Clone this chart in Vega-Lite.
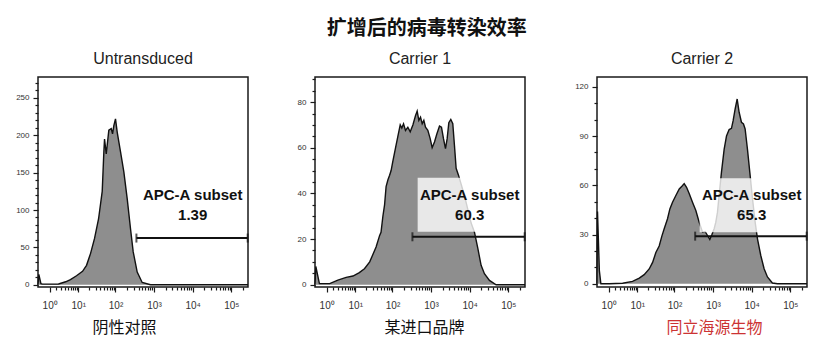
{
  "$schema": "https://vega.github.io/schema/vega-lite/v6.json",
  "padding": {"left": 14, "top": 19, "right": 5, "bottom": 5},
  "background": "#ffffff",
  "title": {
    "text": "扩增后的病毒转染效率",
    "font": "Noto Sans CJK SC",
    "fontSize": 20,
    "fontWeight": "bold",
    "color": "#111111",
    "anchor": "middle",
    "offset": 11,
    "dx": 14
  },
  "datasets": {
    "untransduced": [
      {"intensity": 0, "count": 0},
      {"intensity": 0.05, "count": 14},
      {"intensity": 0.19, "count": 1.5},
      {"intensity": 0.3, "count": 0.8},
      {"intensity": 2.4, "count": 1},
      {"intensity": 4.2, "count": 4},
      {"intensity": 5.9, "count": 7},
      {"intensity": 8.9, "count": 12},
      {"intensity": 13.2, "count": 18},
      {"intensity": 17, "count": 26},
      {"intensity": 21.9, "count": 42},
      {"intensity": 28, "count": 62},
      {"intensity": 35.8, "count": 88},
      {"intensity": 44.8, "count": 125},
      {"intensity": 49.5, "count": 178},
      {"intensity": 51.6, "count": 195},
      {"intensity": 57.2, "count": 175},
      {"intensity": 66.9, "count": 207},
      {"intensity": 77.3, "count": 209},
      {"intensity": 83.7, "count": 202},
      {"intensity": 90.5, "count": 213},
      {"intensity": 100, "count": 222},
      {"intensity": 111, "count": 204},
      {"intensity": 135, "count": 178},
      {"intensity": 165, "count": 151},
      {"intensity": 202, "count": 115},
      {"intensity": 246, "count": 75},
      {"intensity": 289, "count": 44},
      {"intensity": 367, "count": 17},
      {"intensity": 494, "count": 3},
      {"intensity": 812, "count": 0},
      {"intensity": 270000, "count": 0}
    ],
    "carrier1": [
      {"intensity": 0, "count": 0},
      {"intensity": 0.05, "count": 8},
      {"intensity": 0.3, "count": 0.5},
      {"intensity": 1.4, "count": 0.5},
      {"intensity": 2.9, "count": 2},
      {"intensity": 5.4, "count": 3.2},
      {"intensity": 8.6, "count": 3.8},
      {"intensity": 13, "count": 5.3},
      {"intensity": 18, "count": 7},
      {"intensity": 25, "count": 10},
      {"intensity": 30, "count": 13},
      {"intensity": 37, "count": 16.5},
      {"intensity": 46, "count": 21.6},
      {"intensity": 50, "count": 23},
      {"intensity": 56, "count": 30},
      {"intensity": 62, "count": 35},
      {"intensity": 68, "count": 43},
      {"intensity": 76, "count": 46},
      {"intensity": 84, "count": 48},
      {"intensity": 92, "count": 50},
      {"intensity": 102, "count": 54},
      {"intensity": 120, "count": 60},
      {"intensity": 138, "count": 65},
      {"intensity": 159, "count": 70},
      {"intensity": 175, "count": 68.6},
      {"intensity": 194, "count": 70.5},
      {"intensity": 218, "count": 67.6},
      {"intensity": 251, "count": 69},
      {"intensity": 289, "count": 67},
      {"intensity": 339, "count": 70},
      {"intensity": 396, "count": 74},
      {"intensity": 438, "count": 76},
      {"intensity": 484, "count": 72},
      {"intensity": 535, "count": 73.4},
      {"intensity": 591, "count": 70.5},
      {"intensity": 652, "count": 72},
      {"intensity": 720, "count": 69},
      {"intensity": 827, "count": 67.6},
      {"intensity": 952, "count": 64},
      {"intensity": 1071, "count": 60},
      {"intensity": 1230, "count": 62.5},
      {"intensity": 1415, "count": 66},
      {"intensity": 1659, "count": 69.5},
      {"intensity": 1866, "count": 69},
      {"intensity": 2103, "count": 64},
      {"intensity": 2370, "count": 59.6},
      {"intensity": 2617, "count": 64},
      {"intensity": 2890, "count": 71},
      {"intensity": 3251, "count": 72.4},
      {"intensity": 3662, "count": 70.5},
      {"intensity": 4045, "count": 61},
      {"intensity": 4467, "count": 51},
      {"intensity": 5138, "count": 48},
      {"intensity": 6022, "count": 44},
      {"intensity": 7340, "count": 39},
      {"intensity": 8950, "count": 33},
      {"intensity": 10910, "count": 27},
      {"intensity": 13300, "count": 23},
      {"intensity": 16220, "count": 16},
      {"intensity": 19770, "count": 8.5},
      {"intensity": 24100, "count": 4.8},
      {"intensity": 32500, "count": 1.9},
      {"intensity": 48300, "count": 0},
      {"intensity": 270000, "count": 0}
    ],
    "carrier2": [
      {"intensity": 0, "count": 0},
      {"intensity": 0.03, "count": 44},
      {"intensity": 0.15, "count": 8},
      {"intensity": 0.26, "count": 0},
      {"intensity": 1.07, "count": 0},
      {"intensity": 3.6, "count": 0.3},
      {"intensity": 7.3, "count": 1.4},
      {"intensity": 11.4, "count": 3.4},
      {"intensity": 15.6, "count": 5.5},
      {"intensity": 21.4, "count": 9},
      {"intensity": 26.4, "count": 13},
      {"intensity": 32.3, "count": 19},
      {"intensity": 39.6, "count": 23},
      {"intensity": 46.6, "count": 29},
      {"intensity": 53.7, "count": 33.5},
      {"intensity": 65.7, "count": 39.6},
      {"intensity": 75.7, "count": 45.6},
      {"intensity": 88.8, "count": 49.7},
      {"intensity": 108.6, "count": 53.8},
      {"intensity": 133, "count": 57.8},
      {"intensity": 156, "count": 59.4},
      {"intensity": 179, "count": 61},
      {"intensity": 206, "count": 58.8},
      {"intensity": 241, "count": 55},
      {"intensity": 294, "count": 49.7},
      {"intensity": 359, "count": 44.6},
      {"intensity": 438, "count": 37.5},
      {"intensity": 535, "count": 31.4},
      {"intensity": 627, "count": 31.8},
      {"intensity": 720, "count": 29.4},
      {"intensity": 827, "count": 27},
      {"intensity": 932, "count": 29.8},
      {"intensity": 1071, "count": 33.5},
      {"intensity": 1182, "count": 37.5},
      {"intensity": 1305, "count": 43.6},
      {"intensity": 1442, "count": 54},
      {"intensity": 1656, "count": 68},
      {"intensity": 1945, "count": 82},
      {"intensity": 2234, "count": 90},
      {"intensity": 2617, "count": 94},
      {"intensity": 3005, "count": 94.7},
      {"intensity": 3318, "count": 99.4},
      {"intensity": 3740, "count": 106.5},
      {"intensity": 4217, "count": 112.6},
      {"intensity": 4743, "count": 104.5},
      {"intensity": 5445, "count": 98.4},
      {"intensity": 6140, "count": 97.4},
      {"intensity": 6778, "count": 94.3},
      {"intensity": 7780, "count": 82},
      {"intensity": 8950, "count": 68},
      {"intensity": 10490, "count": 52},
      {"intensity": 12300, "count": 37.5},
      {"intensity": 14130, "count": 27.4},
      {"intensity": 17220, "count": 17.2},
      {"intensity": 20990, "count": 9.1},
      {"intensity": 25600, "count": 4.1},
      {"intensity": 34400, "count": 0.4},
      {"intensity": 46400, "count": 0},
      {"intensity": 270000, "count": 0}
    ],
    "gates": [
      {"panel": "Untransduced", "lo": 350, "hi": 265000, "gate_y": 62.5, "label_x": 10000, "label_y": 106.7, "pct": 1.39},
      {"panel": "Carrier 1", "lo": 330, "hi": 265000, "gate_y": 21, "label_x": 10000, "label_y": 35, "pct": 60.3},
      {"panel": "Carrier 2", "lo": 345, "hi": 265000, "gate_y": 29, "label_x": 10000, "label_y": 47.8, "pct": 65.3}
    ]
  },
  "spacing": 44,
  "hconcat": [
    {
      "width": 210,
      "height": 210,
      "title": {"text": "Untransduced"},
      "resolve": {"axis": {"x": "independent", "y": "independent"}},
      "layer": [
        {
          "data": {"name": "untransduced"},
          "mark": {"type": "area", "color": "#8e8e8e", "opacity": 1, "line": {"color": "#111111", "strokeWidth": 1.4}},
          "encoding": {
            "x": {
              "field": "intensity", "type": "quantitative",
              "scale": {"type": "symlog", "constant": 1, "domain": [0, 270000], "nice": false},
              "axis": {
                "orient": "bottom", "title": "阴性对照", "titleX": 86, "titleColor": "#111111",
                "values": [1,10,100,1000,10000,100000],
                "labelExpr": "datum.value == 1 ? '10⁰' : datum.value == 10 ? '10¹' : datum.value == 100 ? '10²' : datum.value == 1000 ? '10³' : datum.value == 10000 ? '10⁴' : '10⁵'",
                "tickSize": 5
              }
            },
            "y": {
              "field": "count", "type": "quantitative", "stack": null,
              "scale": {"domain": [-3, 278], "nice": false, "zero": false},
              "axis": {"orient": "left", "title": null, "values": [0,50,100,150,200,250], "tickSize": 5}
            }
          }
        },
        {
          "data": {"name": "gates"},
          "transform": [{"filter": "datum.panel == 'Untransduced'"}],
          "mark": {"type": "rect", "width": 104, "height": 54, "color": "#ffffff", "fillOpacity": 0.8},
          "encoding": {
            "x": {"field": "label_x", "type": "quantitative", "axis": null},
            "y": {"field": "label_y", "type": "quantitative", "axis": null}
          }
        },
        {
          "data": {"name": "gates"},
          "transform": [{"filter": "datum.panel == 'Untransduced'"}],
          "mark": {"type": "rule", "color": "#111111", "strokeWidth": 2},
          "encoding": {
            "x": {"field": "lo", "type": "quantitative", "axis": {"orient": "bottom", "title": null, "labels": false, "tickSize": 3, "values": [2,3,4,5,6,7,8,9,20,30,40,50,60,70,80,90,200,300,400,500,600,700,800,900,2000,3000,4000,5000,6000,7000,8000,9000,20000,30000,40000,50000,60000,70000,80000,90000,200000]}},
            "x2": {"field": "hi"},
            "y": {"field": "gate_y", "type": "quantitative", "axis": {"orient": "left", "title": null, "labels": false, "tickSize": 3, "values": [10,20,30,40,60,70,80,90,110,120,130,140,160,170,180,190,210,220,230,240,260,270]}}
          }
        },
        {
          "data": {"name": "gates"},
          "transform": [{"filter": "datum.panel == 'Untransduced'"}],
          "mark": {"type": "tick", "orient": "vertical", "size": 9, "thickness": 2, "color": "#111111"},
          "encoding": {
            "x": {"field": "lo", "type": "quantitative", "axis": null},
            "y": {"field": "gate_y", "type": "quantitative", "axis": null}
          }
        },
        {
          "data": {"name": "gates"},
          "transform": [{"filter": "datum.panel == 'Untransduced'"}],
          "mark": {"type": "tick", "orient": "vertical", "size": 9, "thickness": 2, "color": "#111111"},
          "encoding": {
            "x": {"field": "hi", "type": "quantitative", "axis": null},
            "y": {"field": "gate_y", "type": "quantitative", "axis": null}
          }
        },
        {
          "data": {"name": "gates"},
          "transform": [{"filter": "datum.panel == 'Untransduced'"}],
          "mark": {"type": "text", "text": "APC-A subset", "dy": -10, "font": "Liberation Sans", "fontSize": 15, "fontWeight": "bold", "color": "#111111", "align": "center", "baseline": "middle"},
          "encoding": {
            "x": {"field": "label_x", "type": "quantitative", "axis": null},
            "y": {"field": "label_y", "type": "quantitative", "axis": null}
          }
        },
        {
          "data": {"name": "gates"},
          "transform": [{"filter": "datum.panel == 'Untransduced'"}],
          "mark": {"type": "text", "dy": 10, "font": "Liberation Sans", "fontSize": 15, "fontWeight": "bold", "color": "#111111", "align": "center", "baseline": "middle"},
          "encoding": {
            "x": {"field": "label_x", "type": "quantitative", "axis": null},
            "y": {"field": "label_y", "type": "quantitative", "axis": null},
            "text": {"field": "pct", "type": "quantitative", "format": ".3~g"}
          }
        }
      ]
    },
    {
      "width": 210,
      "height": 210,
      "title": {"text": "Carrier 1"},
      "resolve": {"axis": {"x": "independent", "y": "independent"}},
      "layer": [
        {
          "data": {"name": "carrier1"},
          "mark": {"type": "area", "color": "#8e8e8e", "opacity": 1, "line": {"color": "#111111", "strokeWidth": 1.4}},
          "encoding": {
            "x": {
              "field": "intensity", "type": "quantitative",
              "scale": {"type": "symlog", "constant": 1, "domain": [0, 270000], "nice": false},
              "axis": {
                "orient": "bottom", "title": "某进口品牌", "titleX": 109, "titleColor": "#111111",
                "values": [1,10,100,1000,10000,100000],
                "labelExpr": "datum.value == 1 ? '10⁰' : datum.value == 10 ? '10¹' : datum.value == 100 ? '10²' : datum.value == 1000 ? '10³' : datum.value == 10000 ? '10⁴' : '10⁵'",
                "tickSize": 5
              }
            },
            "y": {
              "field": "count", "type": "quantitative", "stack": null,
              "scale": {"domain": [-1, 91], "nice": false, "zero": false},
              "axis": {"orient": "left", "title": null, "values": [0,20,40,60,80], "tickSize": 5}
            }
          }
        },
        {
          "data": {"name": "gates"},
          "transform": [{"filter": "datum.panel == 'Carrier 1'"}],
          "mark": {"type": "rect", "width": 104, "height": 54, "color": "#ffffff", "fillOpacity": 0.8},
          "encoding": {
            "x": {"field": "label_x", "type": "quantitative", "axis": null},
            "y": {"field": "label_y", "type": "quantitative", "axis": null}
          }
        },
        {
          "data": {"name": "gates"},
          "transform": [{"filter": "datum.panel == 'Carrier 1'"}],
          "mark": {"type": "rule", "color": "#111111", "strokeWidth": 2},
          "encoding": {
            "x": {"field": "lo", "type": "quantitative", "axis": {"orient": "bottom", "title": null, "labels": false, "tickSize": 3, "values": [2,3,4,5,6,7,8,9,20,30,40,50,60,70,80,90,200,300,400,500,600,700,800,900,2000,3000,4000,5000,6000,7000,8000,9000,20000,30000,40000,50000,60000,70000,80000,90000,200000]}},
            "x2": {"field": "hi"},
            "y": {"field": "gate_y", "type": "quantitative", "axis": {"orient": "left", "title": null, "labels": false, "tickSize": 3, "values": [5,10,15,25,30,35,45,50,55,65,70,75,85,90]}}
          }
        },
        {
          "data": {"name": "gates"},
          "transform": [{"filter": "datum.panel == 'Carrier 1'"}],
          "mark": {"type": "tick", "orient": "vertical", "size": 9, "thickness": 2, "color": "#111111"},
          "encoding": {
            "x": {"field": "lo", "type": "quantitative", "axis": null},
            "y": {"field": "gate_y", "type": "quantitative", "axis": null}
          }
        },
        {
          "data": {"name": "gates"},
          "transform": [{"filter": "datum.panel == 'Carrier 1'"}],
          "mark": {"type": "tick", "orient": "vertical", "size": 9, "thickness": 2, "color": "#111111"},
          "encoding": {
            "x": {"field": "hi", "type": "quantitative", "axis": null},
            "y": {"field": "gate_y", "type": "quantitative", "axis": null}
          }
        },
        {
          "data": {"name": "gates"},
          "transform": [{"filter": "datum.panel == 'Carrier 1'"}],
          "mark": {"type": "text", "text": "APC-A subset", "dy": -10, "font": "Liberation Sans", "fontSize": 15, "fontWeight": "bold", "color": "#111111", "align": "center", "baseline": "middle"},
          "encoding": {
            "x": {"field": "label_x", "type": "quantitative", "axis": null},
            "y": {"field": "label_y", "type": "quantitative", "axis": null}
          }
        },
        {
          "data": {"name": "gates"},
          "transform": [{"filter": "datum.panel == 'Carrier 1'"}],
          "mark": {"type": "text", "dy": 10, "font": "Liberation Sans", "fontSize": 15, "fontWeight": "bold", "color": "#111111", "align": "center", "baseline": "middle"},
          "encoding": {
            "x": {"field": "label_x", "type": "quantitative", "axis": null},
            "y": {"field": "label_y", "type": "quantitative", "axis": null},
            "text": {"field": "pct", "type": "quantitative", "format": ".3~g"}
          }
        }
      ]
    },
    {
      "width": 210,
      "height": 210,
      "title": {"text": "Carrier 2"},
      "resolve": {"axis": {"x": "independent", "y": "independent"}},
      "layer": [
        {
          "data": {"name": "carrier2"},
          "mark": {"type": "area", "color": "#8e8e8e", "opacity": 1, "line": {"color": "#111111", "strokeWidth": 1.4}},
          "encoding": {
            "x": {
              "field": "intensity", "type": "quantitative",
              "scale": {"type": "symlog", "constant": 1, "domain": [0, 270000], "nice": false},
              "axis": {
                "orient": "bottom", "title": "同立海源生物", "titleX": 117, "titleColor": "#cc3333",
                "values": [1,10,100,1000,10000,100000],
                "labelExpr": "datum.value == 1 ? '10⁰' : datum.value == 10 ? '10¹' : datum.value == 100 ? '10²' : datum.value == 1000 ? '10³' : datum.value == 10000 ? '10⁴' : '10⁵'",
                "tickSize": 5
              }
            },
            "y": {
              "field": "count", "type": "quantitative", "stack": null,
              "scale": {"domain": [-2, 126], "nice": false, "zero": false},
              "axis": {"orient": "left", "title": null, "values": [0,30,60,90,120], "tickSize": 5}
            }
          }
        },
        {
          "data": {"name": "gates"},
          "transform": [{"filter": "datum.panel == 'Carrier 2'"}],
          "mark": {"type": "rect", "width": 104, "height": 54, "color": "#ffffff", "fillOpacity": 0.8},
          "encoding": {
            "x": {"field": "label_x", "type": "quantitative", "axis": null},
            "y": {"field": "label_y", "type": "quantitative", "axis": null}
          }
        },
        {
          "data": {"name": "gates"},
          "transform": [{"filter": "datum.panel == 'Carrier 2'"}],
          "mark": {"type": "rule", "color": "#111111", "strokeWidth": 2},
          "encoding": {
            "x": {"field": "lo", "type": "quantitative", "axis": {"orient": "bottom", "title": null, "labels": false, "tickSize": 3, "values": [2,3,4,5,6,7,8,9,20,30,40,50,60,70,80,90,200,300,400,500,600,700,800,900,2000,3000,4000,5000,6000,7000,8000,9000,20000,30000,40000,50000,60000,70000,80000,90000,200000]}},
            "x2": {"field": "hi"},
            "y": {"field": "gate_y", "type": "quantitative", "axis": {"orient": "left", "title": null, "labels": false, "tickSize": 3, "values": [10,20,40,50,70,80,100,110]}}
          }
        },
        {
          "data": {"name": "gates"},
          "transform": [{"filter": "datum.panel == 'Carrier 2'"}],
          "mark": {"type": "tick", "orient": "vertical", "size": 9, "thickness": 2, "color": "#111111"},
          "encoding": {
            "x": {"field": "lo", "type": "quantitative", "axis": null},
            "y": {"field": "gate_y", "type": "quantitative", "axis": null}
          }
        },
        {
          "data": {"name": "gates"},
          "transform": [{"filter": "datum.panel == 'Carrier 2'"}],
          "mark": {"type": "tick", "orient": "vertical", "size": 9, "thickness": 2, "color": "#111111"},
          "encoding": {
            "x": {"field": "hi", "type": "quantitative", "axis": null},
            "y": {"field": "gate_y", "type": "quantitative", "axis": null}
          }
        },
        {
          "data": {"name": "gates"},
          "transform": [{"filter": "datum.panel == 'Carrier 2'"}],
          "mark": {"type": "text", "text": "APC-A subset", "dy": -10, "font": "Liberation Sans", "fontSize": 15, "fontWeight": "bold", "color": "#111111", "align": "center", "baseline": "middle"},
          "encoding": {
            "x": {"field": "label_x", "type": "quantitative", "axis": null},
            "y": {"field": "label_y", "type": "quantitative", "axis": null}
          }
        },
        {
          "data": {"name": "gates"},
          "transform": [{"filter": "datum.panel == 'Carrier 2'"}],
          "mark": {"type": "text", "dy": 10, "font": "Liberation Sans", "fontSize": 15, "fontWeight": "bold", "color": "#111111", "align": "center", "baseline": "middle"},
          "encoding": {
            "x": {"field": "label_x", "type": "quantitative", "axis": null},
            "y": {"field": "label_y", "type": "quantitative", "axis": null},
            "text": {"field": "pct", "type": "quantitative", "format": ".3~g"}
          }
        }
      ]
    }
  ],
  "config": {
    "font": "Liberation Sans",
    "view": {"stroke": "#1a1a1a", "strokeWidth": 1.5},
    "title": {"font": "Liberation Sans", "fontSize": 16, "fontWeight": "normal", "color": "#222222", "offset": 10},
    "axis": {
      "domain": false,
      "grid": false,
      "tickColor": "#1a1a1a",
      "tickWidth": 1.2,
      "labelColor": "#333333",
      "labelFont": "Liberation Sans",
      "labelOverlap": false,
      "labelFlush": false,
      "labelBound": false
    },
    "axisX": {
      "labelFontSize": 10,
      "labelPadding": 8,
      "titleFont": "Noto Sans CJK SC",
      "titleFontSize": 16,
      "titleFontWeight": "normal",
      "titlePadding": 9
    },
    "axisY": {
      "labelFontSize": 8,
      "labelPadding": 4
    }
  }
}
